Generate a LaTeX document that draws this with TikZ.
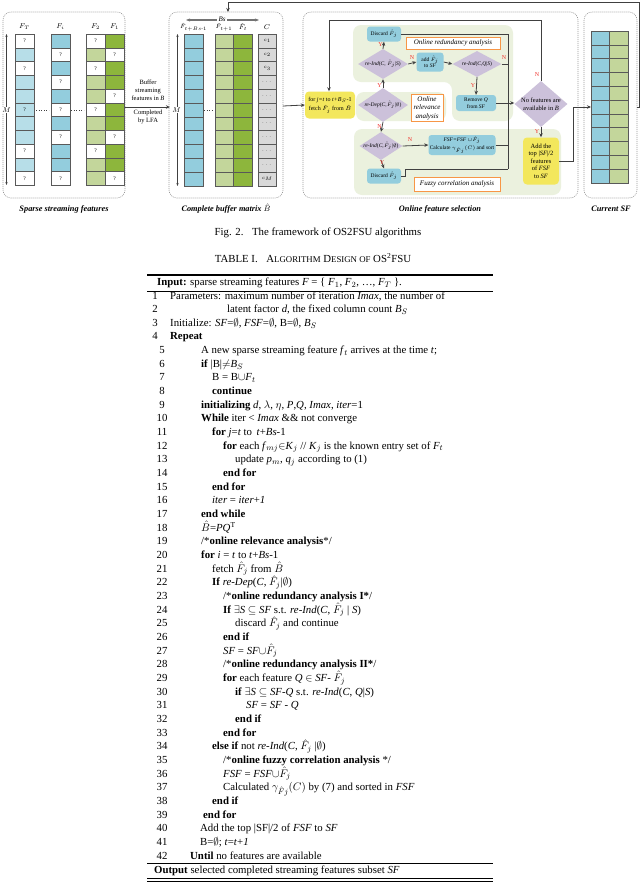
\documentclass[tikz,border=0pt]{standalone}
\usepackage{amsmath,amssymb}
\usepackage{fontspec}
\setmainfont{Liberation Serif}
\usetikzlibrary{arrows.meta,shapes.geometric,calc}
\definecolor{lblue}{HTML}{B7DEE8}
\definecolor{mblue}{HTML}{93CDDD}
\definecolor{lgreen}{HTML}{C3D69B}
\definecolor{dgreen}{HTML}{8DB63C}
\definecolor{cgray}{HTML}{D9D9D9}
\definecolor{bgreen}{HTML}{EBF1DE}
\definecolor{purp}{HTML}{CCC1DA}
\definecolor{yel}{HTML}{F3E75C}
\definecolor{orng}{HTML}{F79646}
\definecolor{redl}{HTML}{F0302A}
\definecolor{lin}{HTML}{404040}
\tikzset{
  panel/.style={draw=black!40, dash pattern=on 1pt off 1pt, rounded corners=8pt, line width=0.6pt},
  cellbox/.style={draw=black!65, line width=0.5pt},
  qm/.style={font=\fontsize{5.5}{5.5}\selectfont, inner sep=0pt},
  collab/.style={font=\fontsize{7}{7}\selectfont\itshape, inner sep=0pt},
  capt/.style={font=\fontsize{8.3}{8.3}\selectfont\bfseries\itshape, inner sep=0pt},
  arr/.style={draw=lin, line width=0.8pt, -{Stealth[length=4pt,width=3.5pt]}},
  ln/.style={draw=lin, line width=0.8pt},
  bbox/.style={fill=mblue, rounded corners=3pt, inner sep=0pt, align=center, font=\fontsize{5.5}{6.5}\selectfont},
  ybox/.style={fill=yel, rounded corners=4pt, inner sep=0pt, align=center},
  dia/.style={diamond, fill=purp, inner sep=0pt},
  dtext/.style={inner sep=0pt, font=\fontsize{5.5}{6}\selectfont},
  yn/.style={text=redl, font=\fontsize{6}{6}\selectfont, inner sep=0pt},
  olab/.style={draw=orng, fill=white, line width=0.8pt, inner sep=0pt, align=center, font=\fontsize{7}{8.5}\selectfont\itshape},
  greg/.style={fill=bgreen, rounded corners=8pt},
  smalltxt/.style={inner sep=0pt, align=center, font=\fontsize{6.5}{8}\selectfont},
  tline/.style={anchor=west, inner sep=0pt, text height=7.5pt, text depth=2.5pt, font=\fontsize{10.8}{12}\selectfont},
  tnum/.style={inner sep=0pt, text height=7.5pt, text depth=2.5pt, font=\fontsize{10.8}{12}\selectfont},
}
\newcommand{\spcol}[3]{%
  \foreach \c [count=\r from 0] in {#2} {\path[cellbox, fill=\c] (#1,{34+\r*13.75}) rectangle ++(19,13.75);}
  \foreach \r in {#3} {\node[qm] (q-#1-\r) at ({#1+9.5},{34+(\r-0.5)*13.75}) {?};}
}
\newcommand{\tl}[3]{\node[tline] (t#2) at (#1,{296.5+(#2-1)*13.66}) {#3};}
\begin{document}
\begin{tikzpicture}[x=1pt,y=-1pt]
\useasboundingbox (0,0) rectangle (640,884);
\fill[white] (0,0) rectangle (640,884);
% ---------- panel 1
\draw[panel] (3,12) rectangle (125,198);
\spcol{15}{white,lblue,white,lblue,lblue,lblue,lblue,lblue,white,lblue,white}{1,3,6,9,11}
\spcol{51}{mblue,white,mblue,white,mblue,white,mblue,white,mblue,mblue,white}{2,4,6,8,11}
\spcol{86}{white,lgreen,white,lgreen,lgreen,white,lgreen,lgreen,white,lgreen,lgreen}{1,3,6,9}
\spcol{105}{dgreen,white,dgreen,dgreen,white,dgreen,dgreen,white,dgreen,dgreen,white}{2,5,8,11}
\node[collab] (lFT) at (24.5,27) {$F_T$};
\node[collab] (lFi) at (60.5,27) {$F_i$};
\node[collab] (lF2) at (95.5,27) {$F_2$};
\node[collab] (lF1) at (114.5,27) {$F_1$};
\coordinate (m1a) at (6.5,34); \coordinate (m1b) at (6.5,185);
\draw[lin, line width=0.6pt, {Stealth[length=3pt]}-{Stealth[length=3pt]}] (m1a) -- (m1b);
\node[collab, fill=white, inner sep=1pt] (M1) at (6.5,110) {$M$};
\draw[lin, line width=0.6pt, dotted] (36,110) -- (49,110);
\draw[lin, line width=0.6pt, dotted] (71,110) -- (84,110);
% arrow 1 -> 2
\coordinate (a12s) at (125,107); \coordinate (a12e) at (170,107);
\draw[arr] (a12s) -- (a12e);
\node[smalltxt] (buf) at (148,90) {Buffer\\streaming\\features in \textit{B}};
\node[smalltxt] (compl) at (148,117) {Completed\\by LFA};
\node[capt] (cap1) at (64,209) {Sparse streaming features};
% ---------- panel 2
\draw[panel] (169,12) rectangle (283,198);
\foreach \r in {0,...,10} {
  \path[cellbox, fill=mblue] (184,{34+\r*13.8}) rectangle ++(19,13.8);
  \path[cellbox, fill=lgreen] (215,{34+\r*13.8}) rectangle ++(18.5,13.8);
  \path[cellbox, fill=dgreen] (233.5,{34+\r*13.8}) rectangle ++(18.5,13.8);
  \path[cellbox, fill=cgray] (258,{34+\r*13.8}) rectangle ++(18.5,13.8);
}
\foreach \r/\t in {1/$c_1$,2/$c_2$,3/$c_3$,4/$\cdots$,5/$\cdots$,6/$\cdots$,7/$\cdots$,8/$\cdots$,9/$\cdots$,10/$\cdots$,11/$c_M$}
  {\node[qm, font=\fontsize{5.5}{5.5}\selectfont] (c-\r) at (267.25,{34+(\r-0.5)*13.8}) {\t};}
\node[collab, font=\fontsize{6}{6}\selectfont\itshape] (lB1) at (193.5,27) {$\hat F_{t+Bs\text{-}1}$};
\node[collab, font=\fontsize{6}{6}\selectfont\itshape] (lB2) at (224,27) {$\hat F_{t+1}$};
\node[collab] (lB3) at (243,27) {$\hat F_t$};
\node[collab] (lC) at (267,27) {$C$};
\coordinate (bsa) at (186,20); \coordinate (bsb) at (259,20);
\draw[draw=black!55, line width=1.2pt, {Stealth[length=4pt]}-{Stealth[length=4pt]}] (bsa) -- (bsb);
\node[collab, fill=white, inner sep=1.2pt] (Bs) at (222,19) {Bs};
\coordinate (m2a) at (177.5,34); \coordinate (m2b) at (177.5,186);
\draw[lin, line width=0.6pt, {Stealth[length=3pt]}-{Stealth[length=3pt]}] (m2a) -- (m2b);
\node[collab, fill=white, inner sep=1pt] (M2) at (176.5,110) {$M$};
\draw[lin, line width=0.6pt, dotted] (204,110) -- (214,110);
\node[capt] (cap2) at (226,209) {Complete buffer matrix $\hat{B}$};
% arrow 2 -> 3
\coordinate (a23s) at (283,106);
% ---------- panel 3
\draw[panel] (303,12) rectangle (578,198);
\fill[greg] (353,25) -- (513,25) -- (513,121) -- (452,121) -- (452,82) -- (353,82) -- cycle;
\fill[greg] (356,92) rectangle (446,121);
\fill[greg] (354,129) rectangle (561,195);
\node[ybox, minimum width=50pt, minimum height=27pt, font=\fontsize{6}{9.5}\selectfont] (forb) at (330,105)
  {for \textit{j=t} to \textit{t+B}$_S$-1\\fetch $\hat F_j$ from $\hat B$};
\draw[arr] (a23s) -- (forb.west);
\node[dia, minimum width=50pt, minimum height=34pt] (reDep) at (383,105) {};
\node[dtext] (reDept) at (reDep) {\textit{re-Dep}(\textit{C},$\hat F_j$|$\emptyset$)};
\node[dia, minimum width=50pt, minimum height=30pt] (reIndS) at (383,64) {};
\node[dtext] (reIndSt) at (reIndS) {\textit{re-Ind}(\textit{C}, $\hat F_j$|\textit{S})};
\node[dia, minimum width=49pt, minimum height=26pt] (reIndQ) at (477,64) {};
\node[dtext] (reIndQt) at (reIndQ) {\textit{re-Ind}(\textit{C},\textit{Q}|\textit{S})};
\node[dia, minimum width=43pt, minimum height=28pt] (reIndE) at (381,146) {};
\node[dtext] (reIndEt) at (reIndE) {\textit{re-Ind}(\textit{C},$\hat F_j$|$\emptyset$)};
\node[dia, minimum width=53pt, minimum height=46pt] (nof) at (541,104) {};
\node[dtext, align=center, font=\fontsize{6.5}{7.5}\selectfont] (noft) at (nof) {No features are\\available in \textit{B}};
\node[bbox, minimum width=34pt, minimum height=15pt] (disc1) at (384,34) {Discard $\hat F_j$};
\node[bbox, minimum width=27pt, minimum height=19pt] (addb) at (430,62) {add $\hat F_j$\\to \textit{SF}};
\node[bbox, minimum width=40pt, minimum height=16pt] (remQ) at (476,103) {Remove \textit{Q}\\from \textit{SF}};
\node[bbox, minimum width=67pt, minimum height=20pt, font=\fontsize{5.5}{8}\selectfont] (fsf) at (462,145) {\textit{FSF=FSF} $\cup\hat F_j$\\Calculate $\gamma_{\hat F j}(C)$ and sort};
\node[bbox, minimum width=34pt, minimum height=15pt] (disc2) at (384,176) {Discard $\hat F_j$};
\node[ybox, minimum width=36pt, minimum height=47pt, font=\fontsize{6.5}{7.6}\selectfont] (addt) at (541,161)
  {Add the\\top |\textit{SF}|/2\\features\\of \textit{FSF}\\to \textit{SF}};
\node[olab, minimum width=94pt, minimum height=12pt] (o1) at (453,43) {Online redundancy analysis};
\node[olab, minimum width=32pt, minimum height=27pt] (o2) at (427,108) {Online\\relevance\\analysis};
\node[olab, minimum width=86pt, minimum height=14pt] (o3) at (457,184) {Fuzzy correlation analysis};
% connectors
\draw[arr] (reDep.north) -- (reIndS.south);
\node[yn] (y1) at (379.5,86) {Y};
\draw[arr] (reIndS.north) -- (disc1.south);
\node[yn] (y2) at (380.5,45) {Y};
\draw[arr] (reIndS.east) -- (addb.west);
\node[yn] (n1) at (412,58) {N};
\draw[arr] (addb.east) -- (reIndQ.west);
\draw[arr] (reIndQ.south) -- (remQ.north);
\node[yn] (y3) at (473,86) {Y};
\coordinate (col1) at (508,34); \coordinate (col2) at (508,169);
\draw[ln] (reIndQ.east) -- (reIndQ.east -| col1);
\node[yn] (n2) at (504,58) {N};
\draw[ln] (disc1.east) -- (col1) -- (col2);
\draw[ln] (fsf.east) -- (fsf.east -| col1);
\coordinate (d2a) at (405.5,176); \coordinate (d2b) at (405.5,169);
\draw[ln] (disc2.east) -- (d2a) -- (d2b) -- (col2);
\draw[arr] (remQ.east) -- (remQ.east -| nof.west);
\draw[arr] (reDep.south) -- (reIndE.north);
\node[yn] (n3) at (379.5,127) {N};
\draw[arr] (reIndE.east) -- (fsf.west);
\node[yn] (n4) at (410,139.5) {N};
\draw[arr] (reIndE.south) -- (disc2.north);
\node[yn] (y4) at (382,163) {Y};
\draw[arr] (nof.south) -- (addt.north);
\node[yn] (y5) at (537,131.5) {Y};
\coordinate (lpa) at (541,20); \coordinate (lpb) at (329,20);
\draw[arr] (nof.north) -- (lpa) -- (lpb) -- (lpb |- forb.north);
\node[yn] (n5) at (537,75) {N};
\node[capt] (cap3) at (440,209) {Online feature selection};
% ---------- panel 4
\draw[panel] (584,12) rectangle (637,198);
\foreach \r in {0,...,10} {
  \path[cellbox, fill=mblue] (591,{31+\r*13.8}) rectangle ++(18.5,13.8);
  \path[cellbox, fill=lgreen] (609.5,{31+\r*13.8}) rectangle ++(18.5,13.8);
}
\coordinate (sfin) at (591,107);
\coordinate (ata) at (573,161); \coordinate (atb) at (573,107);
\draw[arr] (addt.east) -- (ata) -- (atb) -- (sfin);
\coordinate (fb0) at (637,107); \coordinate (fb1) at (639,107); \coordinate (fb2) at (639,2);
\coordinate (fb3) at (228,2); \coordinate (fb4) at (228,12);
\draw[arr] (fb0) -- (fb1) -- (fb2) -- (fb3) -- (fb4);
\node[capt] (cap4) at (611,209) {Current \textit{SF}};
% ---------- captions
\node[inner sep=0pt, font=\fontsize{10.8}{12}\selectfont] (figcap) at (318,233) {Fig. 2.\hspace{0.8em}The framework of OS2FSU algorithms};
\node[inner sep=0pt, font=\fontsize{10.8}{12}\selectfont] (tabcap) at (313,258)
  {TABLE I.\hspace{0.8em}A{\fontsize{8.8}{10}\selectfont LGORITHM} D{\fontsize{8.8}{10}\selectfont ESIGN OF} OS\textsuperscript{2}FSU};
% ---------- table
\coordinate (tl0) at (147,275); \coordinate (tr0) at (493,275);
\draw[line width=1.4pt] (tl0) -- (tr0);
\node[tline] (tin) at (157,283) {\textbf{Input:} sparse streaming features \textit{F} = \{ \textit{F}$_1$, \textit{F}$_2$, \dots, \textit{F}$_T$ \}.};
\coordinate (tl1) at (147,291); \coordinate (tr1) at (493,291);
\draw[line width=0.7pt] (tl1) -- (tr1);
\foreach \k in {1,...,4} {\node[tnum] (n\k) at (155,{296.5+(\k-1)*13.66}) {\k};}
\foreach \k in {5,...,42} {\node[tnum] (n\k) at (162,{296.5+(\k-1)*13.66}) {\k};}
\tl{170}{1}{Parameters: maximum number of iteration \textit{Imax}, the number of}
\tl{227}{2}{latent factor \textit{d}, the fixed column count \textit{B}$_S$}
\tl{170}{3}{Initialize: \textit{SF}=$\emptyset$, \textit{FSF}=$\emptyset$, B=$\emptyset$, \textit{B}$_S$}
\tl{170}{4}{\textbf{Repeat}}
\tl{201}{5}{A new sparse streaming feature \textit{f}$_t$ arrives at the time \textit{t};}
\tl{201}{6}{\textbf{if} |B|$\neq$\textit{B}$_S$}
\tl{212}{7}{B = B$\cup$\textit{F}$_t$}
\tl{212}{8}{\textbf{continue}}
\tl{201}{9}{\textbf{initializing} \textit{d}, $\lambda$, $\eta$, \textit{P},\textit{Q}, \textit{Imax}, \textit{iter}=1}
\tl{201}{10}{\textbf{While} iter < \textit{Imax} \&\& not converge}
\tl{212}{11}{\textbf{for} \textit{j}=\textit{t} to\, \textit{t}+\textit{Bs}-1}
\tl{223}{12}{\textbf{for} each \textit{f}$_{mj}$$\in$\textit{K}$_j$ // \textit{K}$_j$ is the known entry set of \textit{F}$_t$}
\tl{235}{13}{update \textit{p}$_m$, \textit{q}$_j$ according to (1)}
\tl{223}{14}{\textbf{end for}}
\tl{212}{15}{\textbf{end for}}
\tl{212}{16}{\textit{iter} = \textit{iter}+\textit{1}}
\tl{201}{17}{\textbf{end while}}
\tl{201}{18}{$\hat B$=\textit{PQ}$^{\mathrm{T}}$}
\tl{201}{19}{/*\textbf{online relevance analysis}*/}
\tl{201}{20}{\textbf{for} \textit{i} = \textit{t} to \textit{t}+\textit{Bs}-1}
\tl{212}{21}{fetch $\hat F_j$ from $\hat B$}
\tl{212}{22}{\textbf{If} \textit{re-Dep}(\textit{C}, $\hat F_j$|$\emptyset$)}
\tl{223}{23}{/*\textbf{online redundancy analysis I*}/}
\tl{223}{24}{\textbf{If} $\exists$\textit{S} $\subseteq$ \textit{SF} s.t. \textit{re-Ind}(\textit{C}, $\hat F_j$ | \textit{S})}
\tl{235}{25}{discard $\hat F_j$ and continue}
\tl{223}{26}{\textbf{end if}}
\tl{223}{27}{\textit{SF} = \textit{SF}$\cup\hat F_j$}
\tl{223}{28}{/*\textbf{online redundancy analysis II*}/}
\tl{223}{29}{\textbf{for} each feature \textit{Q} $\in$ \textit{SF}- $\hat F_j$}
\tl{235}{30}{\textbf{if} $\exists$\textit{S} $\subseteq$ \textit{SF-Q} s.t. \textit{re-Ind}(\textit{C}, \textit{Q}|\textit{S})}
\tl{246}{31}{\textit{SF} = \textit{SF} - \textit{Q}}
\tl{235}{32}{\textbf{end if}}
\tl{223}{33}{\textbf{end for}}
\tl{212}{34}{\textbf{else if} not \textit{re-Ind}(\textit{C}, $\hat F_j$ |$\emptyset$)}
\tl{223}{35}{/*\textbf{online fuzzy correlation analysis} */}
\tl{223}{36}{\textit{FSF} = \textit{FSF}$\cup\hat F_j$}
\tl{223}{37}{Calculated $\gamma_{\hat F j}(C)$ by (7) and sorted in \textit{FSF}}
\tl{212}{38}{\textbf{end if}}
\tl{203}{39}{\textbf{end for}}
\tl{200}{40}{Add the top |SF|/2 of \textit{FSF} to \textit{SF}}
\tl{200}{41}{B=$\emptyset$; \textit{t}=\textit{t}+\textit{1}}
\tl{190}{42}{\textbf{Until} no features are available}
\coordinate (tl2) at (147,863); \coordinate (tr2) at (493,863);
\draw[line width=0.7pt] (tl2) -- (tr2);
\node[tline] (tout) at (154,871) {\textbf{Output} selected completed streaming features subset \textit{SF}};
\coordinate (tl3) at (147,878.5); \coordinate (tr3) at (493,878.5);
\coordinate (tl4) at (147,881.5); \coordinate (tr4) at (493,881.5);
\draw[line width=0.8pt] (tl3) -- (tr3);
\draw[line width=0.8pt] (tl4) -- (tr4);
\end{tikzpicture}
\end{document}
